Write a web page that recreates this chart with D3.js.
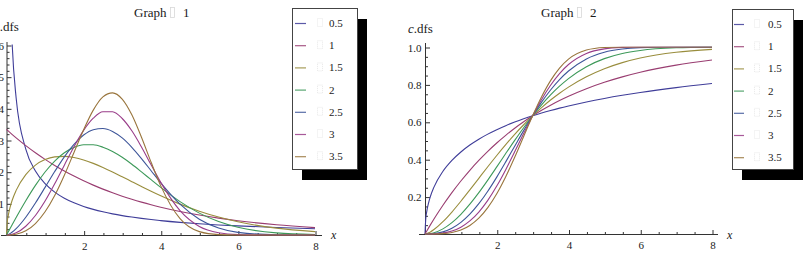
<!DOCTYPE html>
<html><head><meta charset="utf-8">
<script src="https://cdn.jsdelivr.net/npm/d3@7"></script>
<style>
html,body{margin:0;padding:0;background:#fff;overflow:hidden}
svg{display:block}
text{font-family:"Liberation Serif","Times New Roman",serif;fill:#1a1a1a}
</style></head><body>
<svg id="chart" width="810" height="264"></svg>
<script>
// x sample positions shared by every series
const xs = [0,0.02,0.05,0.1,0.15,0.25,0.5,0.75,1,1.25,1.5,1.75,2,2.25,2.5,2.75,3,3.25,3.5,3.75,4,4.5,5,5.5,6,7,8];
const shapeLabels = ["0.5","1","1.5","2","2.5","3","3.5"];
const seriesColors = ["#3f3d99","#993d71","#998d3d","#3d9959","#3d5599","#993d89","#99753d"];

// Graph 1 (density values)
const pdf05 = [null,1.881,1.135,0.7605,0.596,0.4326,0.2714,0.2022,0.1621,0.1354,0.1162,0.1017,0.0902,0.0810,0.0733,0.0668,0.0613,0.0566,0.0524,0.0487,0.0455,0.0400,0.0355,0.0318,0.0287,0.0237,0.0199];
const pdf1  = [0.3333,0.3311,0.3278,0.3224,0.3171,0.3067,0.2822,0.2596,0.2388,0.2197,0.2022,0.1860,0.1711,0.1575,0.1449,0.1333,0.1226,0.1128,0.1038,0.0955,0.0879,0.0744,0.0630,0.0533,0.0451,0.0323,0.0232];
const pdf15 = [0,0.0408,0.0644,0.0907,0.1106,0.1409,0.1907,0.2206,0.2381,0.2466,0.2483,0.2446,0.2369,0.2262,0.2133,0.1990,0.1839,0.1685,0.1532,0.1382,0.1238,0.0975,0.0751,0.0566,0.0418,0.0216,0.0105];
const pdf2  = [0,0.0044,0.0111,0.0222,0.0333,0.0552,0.1081,0.1566,0.1989,0.2335,0.2596,0.2767,0.2850,0.2849,0.2774,0.2637,0.2453,0.2234,0.1994,0.1747,0.1502,0.1054,0.0691,0.0424,0.0244,0.0067,0.0015];
const pdf25 = [0,0.0005,0.0018,0.0051,0.0093,0.0200,0.0561,0.1010,0.1504,0.2004,0.2469,0.2863,0.3156,0.3325,0.3363,0.3272,0.3066,0.2770,0.2414,0.2030,0.1647,0.0973,0.0497,0.0218,0.0082,0.0007,0.0000];
const pdf3  = [0,0.0000,0.0003,0.0011,0.0025,0.0069,0.0277,0.0615,0.1071,0.1615,0.2206,0.2790,0.3305,0.3689,0.3893,0.3890,0.3679,0.3291,0.2781,0.2216,0.1661,0.0770,0.0271,0.0071,0.0013,0.0000,0.0000];
const pdf35 = [0,0,0.0000,0.0002,0.0007,0.0023,0.0132,0.0362,0.0733,0.1248,0.1888,0.2606,0.3324,0.3944,0.4361,0.4489,0.4292,0.3795,0.3086,0.2295,0.1551,0.0515,0.0106,0.0013,0.0001,0,0];

// Graph 2 (cumulative values)
const cdf05 = [0,0.0784,0.1211,0.1669,0.2004,0.2508,0.3352,0.3935,0.4386,0.4756,0.5069,0.5341,0.5580,0.5794,0.5986,0.6161,0.6321,0.6468,0.6604,0.6731,0.6848,0.7062,0.7250,0.7418,0.7569,0.7829,0.8047];
const cdf1  = [0,0.0066,0.0165,0.0328,0.0488,0.0800,0.1535,0.2212,0.2835,0.3408,0.3935,0.4420,0.4866,0.5276,0.5654,0.6001,0.6321,0.6615,0.6886,0.7135,0.7364,0.7769,0.8111,0.8401,0.8647,0.9030,0.9305];
const cdf15 = [0,0.0005,0.0021,0.0061,0.0111,0.0238,0.0658,0.1175,0.1751,0.2358,0.2978,0.3595,0.4198,0.4777,0.5327,0.5842,0.6321,0.6762,0.7164,0.7528,0.7855,0.8407,0.8837,0.9164,0.9409,0.9717,0.9872];
const cdf2  = [0,0.0000,0.0003,0.0011,0.0025,0.0069,0.0274,0.0606,0.1052,0.1594,0.2212,0.2884,0.3588,0.4302,0.5006,0.5684,0.6321,0.6908,0.7436,0.7904,0.8310,0.8946,0.9378,0.9653,0.9817,0.9957,0.9992];
const cdf25 = [0,0,0.0000,0.0002,0.0006,0.0020,0.0113,0.0308,0.0621,0.1060,0.1620,0.2289,0.3043,0.3856,0.4695,0.5527,0.6321,0.7052,0.7701,0.8257,0.8716,0.9364,0.9723,0.9894,0.9965,0.9998,1.0000];
const cdf3  = [0,0,0,0.0000,0.0001,0.0006,0.0046,0.0155,0.0364,0.0698,0.1175,0.1800,0.2564,0.3442,0.4394,0.5371,0.6321,0.7196,0.7957,0.8582,0.9066,0.9658,0.9902,0.9979,0.9997,1.0000,1.0000];
const cdf35 = [0,0,0,0.0000,0.0000,0.0002,0.0019,0.0078,0.0212,0.0456,0.0846,0.1407,0.2149,0.3061,0.4104,0.5217,0.6321,0.7337,0.8201,0.8874,0.9352,0.9840,0.9975,0.9998,1.0000,1.0000,1.0000];

const xTickValues = [2,4,6,8];
const pdfYTicks = [0.1,0.2,0.3,0.4,0.5,0.6];
const cdfYTicks = [0.2,0.4,0.6,0.8,1.0];
const titles = ["1","2"];

const svg = d3.select("#chart");
const AX = "#333";

function drawPanel(c, idx) {
  const g = svg.append("g");
  const x = d3.scaleLinear().domain([0,8]).range(c.xr);
  const y = d3.scaleLinear().domain(c.yd).range(c.yr);

  // title
  g.append("text").attr("x", c.titleX).attr("y", 17).attr("font-size", 13).text("Graph");
  g.append("rect").attr("x", c.titleX + 36.5).attr("y", 7.5).attr("width", 4).attr("height", 10)
    .attr("fill", "none").attr("stroke", "#d8d8d8").attr("stroke-width", 0.8);
  g.append("text").attr("x", c.titleX + 49).attr("y", 17).attr("font-size", 13).text(titles[idx]);

  // legend
  const L = c.legend;
  g.append("rect").attr("x", L.x + 10).attr("y", L.y + 11).attr("width", L.w).attr("height", L.h).attr("fill", "#000");
  g.append("rect").attr("x", L.x + 0.5).attr("y", L.y + 0.5).attr("width", L.w).attr("height", L.h)
    .attr("fill", "#fff").attr("stroke", "#444").attr("stroke-width", 1);
  shapeLabels.forEach((lab, i) => {
    const yy = L.y0 + i * 22.2;
    g.append("line").attr("x1", L.lx1).attr("x2", L.lx2).attr("y1", yy + 0.5).attr("y2", yy + 0.5)
      .attr("stroke", seriesColors[i]).attr("stroke-width", 1.2).attr("opacity", 0.85);
    g.append("rect").attr("x", L.fx + 0.5).attr("y", yy - 4.5).attr("width", 5).attr("height", 8)
      .attr("fill", "none").attr("stroke", "#e2e2e2").attr("stroke-width", 0.8).attr("stroke-dasharray", "1,1");
    g.append("text").attr("x", L.tx).attr("y", yy + 4).attr("font-size", 11).text(lab);
  });

  // axes lines
  const x0 = x(0), y0 = y(0);
  g.append("line").attr("x1", c.axX[0]).attr("x2", c.axX[1]).attr("y1", y0 + 0.5).attr("y2", y0 + 0.5)
    .attr("stroke", AX).attr("stroke-width", 1);
  g.append("line").attr("x1", x0 + 0.5).attr("x2", x0 + 0.5).attr("y1", y0 + 1).attr("y2", c.axYTop)
    .attr("stroke", AX).attr("stroke-width", 1);

  // x ticks
  const minorX = d3.range(0.5, 8.01, 0.5).filter(v => Math.abs(v / 2 - Math.round(v / 2)) > 1e-6);
  const xMinorAxis = d3.axisBottom(x).tickValues(minorX).tickSizeInner(-2.5).tickSizeOuter(0).tickFormat("");
  const gxm = g.append("g").attr("transform", `translate(0.5,${y0 + 0.5})`).call(xMinorAxis);
  const xAxis = d3.axisBottom(x).tickValues(xTickValues).tickSizeInner(-4.5).tickSizeOuter(0).tickPadding(7).tickFormat(d3.format("d"));
  const gx = g.append("g").attr("transform", `translate(0.5,${y0 + 0.5})`).call(xAxis);
  [gxm, gx].forEach(s => { s.select(".domain").remove(); s.selectAll("line").attr("stroke", AX); });
  gx.selectAll("text").attr("font-size", 11).attr("fill", "#1a1a1a").style("font-family", '"Liberation Serif","Times New Roman",serif');

  // y ticks
  const minorY = d3.range(c.yMinor, c.yd[1] + 1e-9, c.yMinor)
    .filter(v => !c.yTicks.some(t => Math.abs(t - v) < 1e-6));
  const yMinorAxis = d3.axisLeft(y).tickValues(minorY).tickSizeInner(-2.5).tickSizeOuter(0).tickFormat("");
  const gym = g.append("g").attr("transform", `translate(${x0 + 0.5},0.5)`).call(yMinorAxis);
  const yAxis = d3.axisLeft(y).tickValues(c.yTicks).tickSizeInner(-4.5).tickSizeOuter(0).tickPadding(c.yPad).tickFormat(d3.format(".1f"));
  const gy = g.append("g").attr("transform", `translate(${x0 + 0.5},0.5)`).call(yAxis);
  [gym, gy].forEach(s => { s.select(".domain").remove(); s.selectAll("line").attr("stroke", AX); });
  gy.selectAll("text").attr("font-size", 11).attr("fill", "#1a1a1a").style("font-family", '"Liberation Serif","Times New Roman",serif');

  // axis labels
  g.append("text").attr("x", c.xLab[0]).attr("y", c.xLab[1]).attr("font-size", 12).attr("font-style", "italic").text("x");
  const yl = g.append("text").attr("x", c.yLab[0]).attr("y", c.yLab[1]).attr("font-size", 13);
  yl.append("tspan").attr("font-style", "italic").text("c");
  yl.append("tspan").text(".dfs");

  // curves
  const clipId = "clip" + idx;
  svg.append("clipPath").attr("id", clipId).append("rect")
    .attr("x", x(0) - 1).attr("y", y(c.yd[1]) - 0.5).attr("width", x(8) - x(0) + 2).attr("height", y(0) - y(c.yd[1]) + 2);
  const cg = g.append("g").attr("clip-path", `url(#${clipId})`);
  c.series.forEach((vals, i) => {
    const pts = xs.map((xv, j) => [xv, vals[j]]);
    const line = d3.line().defined(d => d[1] !== null).x(d => x(d[0])).y(d => y(d[1])).curve(d3.curveMonotoneX);
    cg.append("path").attr("d", line(pts)).attr("fill", "none")
      .attr("stroke", seriesColors[i]).attr("stroke-width", 1.1);
  });
}

drawPanel({
  xr: [6.5, 315], yd: [0, 0.6], yr: [235, 45], yTicks: pdfYTicks, yMinor: 0.02, yPad: 3,
  axX: [1, 322], axYTop: 42, xLab: [331, 239], yLab: [-6, 31], titleX: 134,
  series: [pdf05, pdf1, pdf15, pdf2, pdf25, pdf3, pdf35],
  legend: { x: 292, y: 8, w: 65, h: 161, y0: 23, lx1: 295, lx2: 306, fx: 317, tx: 329 }
}, 0);

drawPanel({
  xr: [425, 712], yd: [0, 1], yr: [234, 47], yTicks: cdfYTicks, yMinor: 0.05, yPad: 4,
  axX: [419, 718], axYTop: 43, xLab: [727, 239], yLab: [408, 33], titleX: 541,
  series: [cdf05, cdf1, cdf15, cdf2, cdf25, cdf3, cdf35],
  legend: { x: 732, y: 9, w: 61, h: 160, y0: 24, lx1: 734, lx2: 744, fx: 754, tx: 768 }
}, 1);
</script>
</body></html>
